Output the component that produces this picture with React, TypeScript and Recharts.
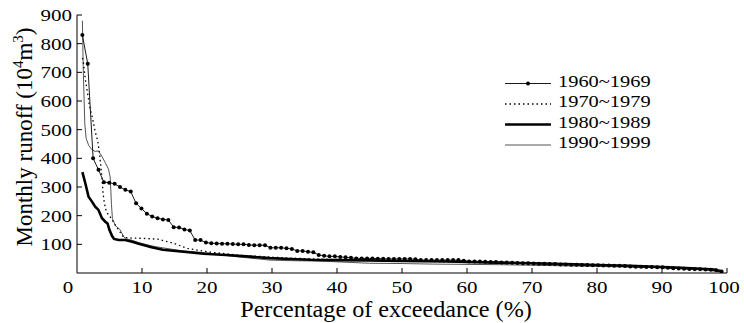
import React from 'react';
import { LineChart, Line, XAxis, YAxis, Legend } from 'recharts';

const FONT = '"Liberation Serif", "Times New Roman", serif';

// 1960~1969: one value per month (120), sorted, plotted at rank/(n+1)
const runoff60 = [
  830, 730, 400, 360, 317, 315, 311, 300, 290, 284,
  243, 225, 207, 197, 191, 187, 185, 160, 159, 152,
  148, 115, 115, 106, 104, 103, 102, 102, 101, 100,
  100, 98, 97, 97, 97, 88, 88, 88, 86, 84,
  77, 77, 74, 72, 63, 60, 58, 58, 56, 55,
  53, 51, 51, 51, 51, 50, 50, 49, 49, 49,
  49, 49, 48, 45, 45, 45, 45, 45, 45, 45,
  45, 43, 40, 40, 40, 39, 38, 38, 37, 37,
  36, 35, 34, 34, 33, 32, 32, 31, 31, 30,
  30, 29, 29, 28, 28, 27, 27, 26, 26, 25,
  25, 24, 23, 22, 22, 21, 21, 20, 20, 18,
  17, 16, 15, 14, 13, 13, 12, 11, 10, 5,
];

// other decades: curve read at breakpoints (exceedance %, runoff)
const pct70 = [0.83, 1.0, 1.3, 1.63, 1.9, 2.3, 2.8, 3.2, 3.5, 3.85, 4.0, 4.2, 4.5, 5.1, 5.9, 6.7, 7.2, 8.3, 10, 12.4, 14.8, 15.9, 17, 18.5, 20, 25, 30, 35, 40, 45, 50, 55, 60, 65, 70, 75, 80, 85, 90, 95, 97.5, 99.17];
const runoff70 = [750, 732, 673, 627, 586, 548, 493, 460, 410, 330, 280, 245, 214, 196, 167, 140, 124, 122, 121, 118, 104, 95, 86, 80, 74, 62, 55, 50, 47, 44, 42, 40, 38, 36, 34, 31, 28, 25, 21, 16, 12, 4];

const pct80 = [0.83, 1.28, 1.78, 2.3, 2.8, 3.3, 3.85, 4.35, 4.7, 5.0, 5.4, 5.7, 6.4, 7.4, 8.5, 9.5, 10.5, 11.3, 13.2, 16.4, 19.5, 23.6, 26.6, 29.7, 32.8, 36, 40, 45, 50, 57, 63, 70, 75, 80, 85, 90, 93, 96, 98, 99.17];
const runoff80 = [352, 313, 266, 249, 231, 220, 191, 179, 173, 150, 129, 119, 115, 115, 109, 102, 96, 91, 81, 74, 67, 62, 57, 52, 49, 46, 45, 44, 42, 40, 37, 34, 31, 28, 25, 21, 18, 15, 12, 6];

const pct90 = [0.83, 0.95, 1.2, 1.4, 1.8, 2.3, 2.8, 3.3, 3.8, 4.35, 4.85, 5.1, 5.2, 5.3, 5.45, 5.9, 6.6, 7.2, 7.6, 8.5, 9.5, 10.5, 12, 14, 16, 20, 23.6, 26.6, 29.7, 33, 36, 39, 42, 45, 50, 55, 60, 65, 70, 75, 80, 85, 90, 95, 97, 99.17];
const runoff90 = [880, 720, 520, 470, 445, 430, 424, 426, 408, 385, 362, 335, 290, 240, 190, 165, 152, 126, 119, 114, 106, 100, 92, 85, 78, 70, 59, 52, 45, 43, 42, 40, 37, 34, 33, 31, 30, 29, 27, 25, 23, 21, 18, 14, 10, 3];

const xTicks = [0, 10, 20, 30, 40, 50, 60, 70, 80, 90, 100];
const yTicks = [100, 200, 300, 400, 500, 600, 700, 800, 900];

const d60 = runoff60.map((v, i) => ({ p: ((i + 1) / (runoff60.length + 1)) * 100, v }));
const zip = (ps: number[], vs: number[]) => ps.map((p, i) => ({ p, v: vs[i] }));

const series = [
  { name: '1960~1969', data: d60, stroke: '#1a1a1a', width: 1, dash: undefined as string | undefined, dot: true },
  { name: '1970~1979', data: zip(pct70, runoff70), stroke: '#000', width: 1.3, dash: '1.5 3', dot: false },
  { name: '1980~1989', data: zip(pct80, runoff80), stroke: '#000', width: 2.6, dash: undefined, dot: false },
  { name: '1990~1999', data: zip(pct90, runoff90), stroke: '#555', width: 1, dash: undefined, dot: false },
];

const XTick = (props: any) => {
  const { x, y, payload } = props;
  const v = payload.value;
  const dx = v === 0 ? -9 : v === 100 ? -3 : 0;
  return (
    <g>
      {v !== 0 && <line x1={x} x2={x} y1={y} y2={y - 5} stroke="#000" />}
      <text transform={`translate(${x + dx},${y + 20}) scale(1.2,1)`} textAnchor="middle"
        fontSize={17.5} fontFamily={FONT} fill="#000">{v}</text>
    </g>
  );
};

const YTick = (props: any) => {
  const { x, y, payload } = props;
  return (
    <g>
      <line x1={x} x2={x + 5} y1={y} y2={y} stroke="#000" />
      <text transform={`translate(${x - 5},${y + 6}) scale(1.2,1)`} textAnchor="end"
        fontSize={17.5} fontFamily={FONT} fill="#000">{payload.value}</text>
    </g>
  );
};

const Dot60 = (props: any) => {
  const { cx, cy, index } = props;
  return <circle key={index} cx={cx} cy={cy} r={2} fill="#000" />;
};

const LegendBox = () => (
  <svg width={170} height={90}>
    {series.map((s, i) => {
      const base = 16.5 + i * 20.5;
      return (
        <g key={s.name}>
          <line x1={5} x2={51} y1={base - 3} y2={base - 3} stroke={s.stroke}
            strokeWidth={s.width} strokeDasharray={s.dash} />
          {s.dot && <circle cx={28} cy={base - 3} r={2} fill="#000" />}
          <text transform={`translate(58,${base}) scale(1.2,1)`} fontSize={17}
            fontFamily={FONT} fill="#000">{s.name}</text>
        </g>
      );
    })}
  </svg>
);

export default function App() {
  const drawOrder = [series[3], series[2], series[1], series[0]];
  return (
    <div style={{ position: 'absolute', left: 0, top: 0, background: '#fff' }}>
      <LineChart width={744} height={323} margin={{ top: 15, right: 17, bottom: 0, left: 0 }}>
        <XAxis type="number" dataKey="p" domain={[0, 100]} ticks={xTicks} height={50}
          tickSize={0} tickMargin={0} tick={<XTick />} axisLine={{ stroke: '#000' }}
          allowDataOverflow
          label={{
            content: () => (
              <text transform="translate(386,317) scale(1.05,1)" textAnchor="middle"
                fontSize={23} fontFamily={FONT} fill="#000">Percentage of exceedance (%)</text>
            ),
          }} />
        <YAxis type="number" dataKey="v" domain={[0, 900]} ticks={yTicks} width={77}
          tickSize={0} tickMargin={0} tick={<YTick />} axisLine={{ stroke: '#000' }}
          allowDataOverflow
          label={{
            content: () => (
              <text transform="translate(32,137) rotate(-90)" textAnchor="middle"
                fontSize={23} fontFamily={FONT} fill="#000">
                Monthly runoff (10<tspan dy={-9} fontSize={15}>4</tspan>
                <tspan dy={9}>m</tspan><tspan dy={-9} fontSize={15}>3</tspan>
                <tspan dy={9}>)</tspan>
              </text>
            ),
          }} />
        <Legend layout="vertical" align="center" verticalAlign="middle" content={<LegendBox />}
          wrapperStyle={{ left: 500, top: 70, width: 170, height: 90 }} />
        {drawOrder.map((s) => (
          <Line key={s.name} name={s.name} data={s.data} dataKey="v" type="linear"
            stroke={s.stroke} strokeWidth={s.width} strokeDasharray={s.dash}
            dot={s.dot ? <Dot60 /> : false} activeDot={false} isAnimationActive={false} />
        ))}
      </LineChart>
    </div>
  );
}
